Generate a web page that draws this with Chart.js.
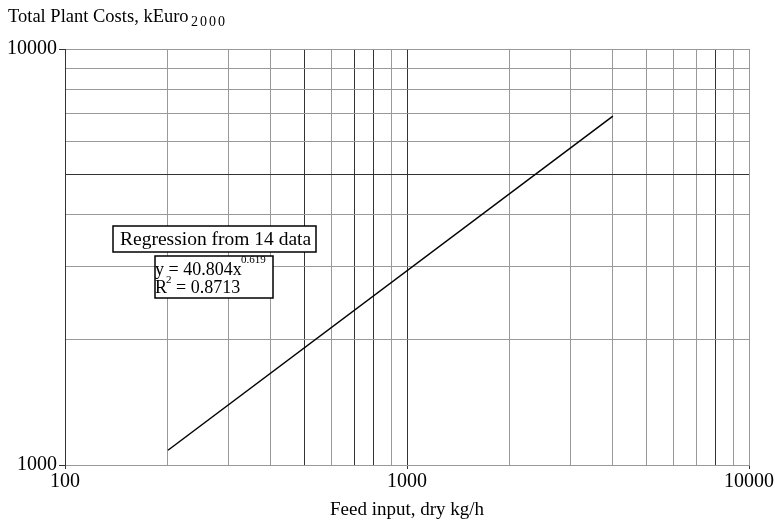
<!DOCTYPE html>
<html>
<head>
<meta charset="utf-8">
<script src="https://cdn.jsdelivr.net/npm/chart.js@4"></script>
<style>
  html, body { margin: 0; padding: 0; background: #fff; }
  #wrap { width: 775px; height: 521px; position: relative; }
</style>
</head>
<body>
<div id="wrap"><canvas id="myChart"></canvas></div>
<script>
// regression line
const feedInput = [200, 4000];
const plantCosts = [1085, 6900];

// grid ticks
const xTicks = [100, 200, 300, 400, 500, 600, 700, 800, 900, 1000, 2000, 3000, 4000, 5000, 6000, 7000, 8000, 9000, 10000];
const yTicks = [1000, 2000, 3000, 4000, 5000, 6000, 7000, 8000, 9000, 10000];
const labelTicks = [100, 1000, 10000];

// lines that look darker in the scan
const darkX = [500, 700, 800, 1000, 8000];
const darkY = [5000];

const FONT = "'Liberation Serif', 'Times New Roman', serif";

// draws a string one char at a time with a fixed step (the scan is stretched)
function spaced(c, s, x, y, step) {
    for (let i = 0; i < s.length; i++) c.fillText(s[i], x + i * step, y);
}

// text boxes and y title, drawn on top
const extras = {
    id: 'extras',
    afterDraw(chart) {
        const c = chart.ctx;
        c.save();
        c.fillStyle = '#000';
        c.textBaseline = 'alphabetic';
        c.textAlign = 'left';

        // y axis title with subscript
        c.font = '18.5px ' + FONT;
        c.fillText('Total Plant Costs, kEuro', 8, 22);
        c.font = '14px ' + FONT;
        spaced(c, '2000', 191, 26, 9);

        // box 1
        c.fillStyle = '#fff';
        c.fillRect(113, 226, 203, 26);
        c.strokeStyle = '#000';
        c.lineWidth = 1.5;
        c.strokeRect(113, 226, 203, 26);
        c.fillStyle = '#000';
        c.font = '19.5px ' + FONT;
        c.fillText('Regression from 14 data', 120, 245);

        // box 2
        c.fillStyle = '#fff';
        c.fillRect(155, 256, 118, 42);
        c.strokeRect(155, 256, 118, 42);
        c.fillStyle = '#000';
        c.font = '18px ' + FONT;
        c.fillText('y = 40.804x', 155, 275);
        c.font = '11px ' + FONT;
        c.fillText('0.619', 241, 263);
        c.font = '18px ' + FONT;
        c.fillText('R', 155, 293);
        c.font = '11px ' + FONT;
        c.fillText('2', 166, 283);
        c.font = '18px ' + FONT;
        c.fillText('= 0.8713', 176, 293);
        c.restore();
    }
};

const ctx = document.getElementById('myChart').getContext('2d');
let chart = new Chart(ctx, {
    type: 'line',
    data: {
        datasets: [{
            data: feedInput.map((x, i) => ({ x: x, y: plantCosts[i] })),
            borderColor: '#000',
            borderWidth: 1.5,
            pointRadius: 0,
            tension: 0
        }]
    },
    options: {
        responsive: true,
        maintainAspectRatio: false,
        animation: false,
        layout: { padding: { left: 0, right: 23, top: 49, bottom: 0 } },
        plugins: {
            legend: { display: false },
            tooltip: { enabled: false }
        },
        scales: {
            x: {
                type: 'logarithmic',
                min: 100,
                max: 10000,
                afterBuildTicks: (scale) => { scale.ticks = xTicks.map(v => ({ value: v })); },
                afterFit: (scale) => { scale.height = 56; },
                grid: {
                    color: (c) => darkX.includes(c.tick && c.tick.value) ? '#333' : '#999',
                    lineWidth: 1,
                    tickLength: 4,
                    tickColor: (c) => labelTicks.includes(c.tick && c.tick.value) ? '#333' : 'rgba(0,0,0,0)'
                },
                border: { color: '#999', width: 1 },
                ticks: {
                    autoSkip: false,
                    maxRotation: 0,
                    padding: 1,
                    color: '#000',
                    font: { family: FONT, size: 20 },
                    callback: (v) => labelTicks.includes(v) ? String(v) : ''
                },
                title: {
                    display: true,
                    text: 'Feed input, dry kg/h',
                    color: '#000',
                    font: { family: FONT, size: 19 },
                    padding: { top: 0, bottom: 0 }
                }
            },
            y: {
                type: 'logarithmic',
                min: 1000,
                max: 10000,
                afterBuildTicks: (scale) => { scale.ticks = yTicks.map(v => ({ value: v })); },
                afterFit: (scale) => { scale.width = 65; },
                grid: {
                    color: (c) => darkY.includes(c.tick && c.tick.value) ? '#333' : '#999',
                    lineWidth: 1,
                    tickLength: 6,
                    tickColor: (c) => labelTicks.includes(c.tick && c.tick.value) ? '#333' : 'rgba(0,0,0,0)'
                },
                border: { color: '#333', width: 1 },
                ticks: {
                    autoSkip: false,
                    padding: 2,
                    color: '#000',
                    font: { family: FONT, size: 20 },
                    callback: (v) => labelTicks.includes(v) ? String(v) : ''
                }
            }
        }
    },
    plugins: [extras]
});
</script>
</body>
</html>
